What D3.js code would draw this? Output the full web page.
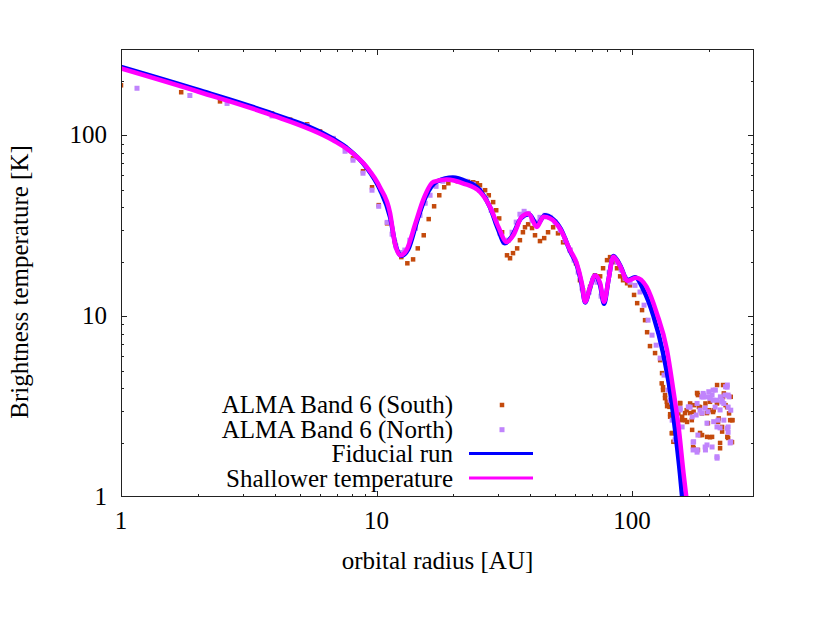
<!DOCTYPE html>
<html>
<head>
<meta charset="utf-8">
<script src="https://cdn.jsdelivr.net/npm/d3@7"></script>
<style>
  body { margin: 0; background: #fff; }
  text { font-family: "Liberation Serif", "Times New Roman", serif; fill: #000; }
</style>
</head>
<body>
<div id="chart"></div>
<script>
// ALMA Band 6 radial profiles, [radius AU, brightness temperature K]
const southObs = [
  [1.0,189],[1.72,173],[2.44,154],[3.90,132],[4.59,122],[5.35,115],[6.01,105],[6.76,96.2],
  [7.53,85.9],[8.09,74.6],[8.85,63.3],[9.60,51.6],[10.2,41.1],[11.0,32.6],[11.8,25.6],
  [12.5,21.2],[13.2,19.6],[13.9,20.6],[14.5,23.7],[15.3,28.0],[16.0,34.4],[16.8,40.5],
  [17.6,46.6],[18.4,51.6],[19.1,54.3],[20.8,55.7],[21.8,55.7],[22.8,55.4],[23.9,55.0],
  [24.7,54.3],[25.4,52.9],[26.6,49.7],[27.5,46.6],[28.6,42.7],[29.4,38.5],[30.2,34.7],
  [31.0,29.1],[31.8,25.6],[32.4,21.7],[33.3,20.9],[34.2,22.3],[35.5,23.7],[36.4,26.3],
  [37.4,29.1],[38.1,31.0],[39.2,32.2],[40.6,30.7],[41.7,28.0],[43.6,26.0],[45.3,27.0],
  [46.9,29.1],[49.1,31.0],[51.3,28.7],[53.7,25.6],[57.2,23.2],[60.3,19.6],[62.5,15.8],
  [64.3,13.9],[66.1,12.7],[68.5,14.5],[71.6,16.8],[75.0,16.6],[77.0,18.4],[79.8,20.4],
  [82.0,21.2],[85.1,19.9],[87.3,18.4],[89.8,16.6],[92.2,15.8],[95.6,15.2],[98.2,14.8],
  [101.8,13.1],[104.7,11.8],[109.4,10.8],[112.4,9.5],[114.5,8.15],[117.5,6.83],[123.0,6.25],
  [128.8,5.71],[130.6,4.25],[131.0,4.84],[132.2,4.05],[132.2,3.90],[134.6,3.52],[134.6,3.66],
  [136.7,3.36],[137.1,3.18],[140,3.15],[140.9,2.87],[140.9,2.78],[143,2.25],[143.5,2.26],
  [145.1,2.02],[147.3,2.77],[151.7,2.90],[154.2,3.31],[154.2,3.29],[157.0,2.66],[157,2.78],
  [161.1,2.91],[161.1,2.66],[163.5,3.02],[164.1,2.60],[168.7,2.91],[168.7,3.29],[171.3,2.66],
  [171.8,2.35],[173.3,1.89],[174.1,2.96],[174.1,1.86],[175.0,3.22],[179.6,3.76],[179.9,3.74],
  [181,3.66],[181,1.82],[182.7,3.15],[184.5,3.14],[184.5,2.26],[184.5,2.20],[187.5,2.90],
  [187.9,2.20],[193.7,3.29],[196.4,2.91],[196.6,2.15],[198,2.56],[199.6,3.02],[201.8,2.14],
  [201.8,3.36],[205.6,2.15],[207.5,2.95],[208.6,3.02],[214.9,3.29],[215.1,3.35],[215.1,4.16],
  [217,2.60],[218.3,2.72],[221,1.99],[221,1.86],[225,2.44],[225.1,2.30],[227,3.57],
  [227,4.16],[228.6,3.74],[232.2,3.22],[235.5,3.14],[235.9,2.15],[237.6,2.12],[239.6,2.90],
  [242,2.66],[243.3,3.58],[246,2.01],[246,2.66],[247.1,2.66]
];
const northObs = [
  [1.155,182],[1.86,166],[2.60,150],[3.90,128],[5.35,113],[6.76,96.2],[7.53,81.6],[8.09,72.8],
  [8.85,61.7],[9.60,49.7],[10.2,40.5],[11.0,33.0],[11.5,28.4],[11.9,24.4],[12.5,22.5],
  [12.9,23.2],[13.5,26.3],[14.2,30.6],[14.8,36.1],[15.5,42.1],[16.2,46.6],[17.1,52.2],
  [18.2,55.7],[19.4,57.2],[20.8,56.8],[22.4,55.7],[23.9,53.6],[25.4,49.7],[26.8,44.9],
  [28.1,38.5],[29.4,33.1],[30.4,28.7],[31.6,25.6],[32.7,26.3],[33.9,29.1],[35.2,33.1],
  [36.4,36.6],[37.8,38.0],[39.2,37.0],[40.6,33.9],[42.1,33.1],[43.6,35.2],[45.6,36.1],
  [47.8,35.2],[50.0,33.1],[52.3,29.9],[54.7,26.3],[57.2,23.2],[59.3,20.4],[61.5,17.5],
  [63.7,14.3],[65.5,12.6],[67.9,13.6],[70.3,15.8],[72.9,15.4],[75.6,12.9],[78.4,12.7],
  [81.3,17.5],[84.3,20.9],[87.3,19.9],[90.6,18.0],[93.9,16.2],[98.2,15.4],[102.7,14.8],
  [107.4,13.6],[111.4,11.5],[115.5,9.5],[119.7,7.85],[124.2,6.91],[128.8,5.86],[133.4,4.72],
  [138.3,3.90],[140.9,3.43],[143.5,2.66],[147.3,2.07],[149.5,2.55],[152,2.15],[154.2,3.03],
  [154.2,3.09],[157.0,2.44],[166,3.15],[168.7,3.14],[171.8,2.77],[173.3,1.82],[173.3,2.01],
  [174.1,2.02],[178.2,2.84],[179.6,1.77],[179.6,3.29],[179.9,1.82],[181,2.20],[184.5,3.02],
  [187.5,3.58],[187.9,2.91],[189.7,3.57],[189.7,3.74],[190.5,3.66],[193.2,3.10],[193.2,1.89],
  [193.7,1.82],[196.4,2.56],[196.4,1.94],[196.6,3.58],[198,2.96],[199.6,3.82],[201.8,3.57],
  [201.8,3.51],[205.6,1.89],[205.6,3.66],[207.5,3.43],[207.5,3.90],[208.6,2.61],[211.3,3.14],
  [211.8,3.90],[214.9,2.44],[214.9,1.67],[215.1,1.64],[215.1,3.43],[217,2.66],[221,2.41],
  [221,3.03],[221.6,3.58],[225,3.35],[225.1,3.43],[228.6,3.29],[228.6,2.66],[231,3.66],
  [232.2,4.07],[235.5,4.05],[235.9,4.16],[235.9,2.40],[237.6,3.14],[237.6,2.28],[237.6,3.66],
  [237.6,2.44],[239.6,3.58],[242,1.99],[243.3,2.02],[243.3,3.02]
];
const fiducialRun = [
  [1,239],[2.04,177],[3.72,135],[6.76,95.7],[7.64,85.3],[9.15,66.1],[10.3,50.3],[11.3,35.2],
  [11.9,24.4],[12.5,21.6],[13.3,23.4],[14.4,33.5],[15.6,46.0],[17.3,55.7],[19.9,58.4],
  [22.4,55.7],[25.4,49.7],[27.8,40.0],[29.8,30.6],[31.8,25.3],[33.9,27.7],[36.8,34.8],
  [39.5,36.6],[42.5,32.2],[45.6,36.1],[48.6,34.8],[52.7,30.2],[57.2,22.9],[60.8,19.1],
  [63.6,14.8],[65.5,11.9],[68.5,14.4],[71.6,16.8],[75.0,14.8],[77.7,11.7],[80.8,15.8],
  [84.5,21.5],[89.8,19.1],[96.0,15.8],[102.7,16.4],[111,13.9],[121,10.1],[132,6.32],
  [141,3.80],[147,2.41],[154,1.34],[157,1.0],[159,0.85]
];
const shallowerTemp = [
  [1,234],[2.04,173],[3.72,132],[6.76,93.8],[7.64,84.4],[9.15,66.8],[10.3,51.8],[11.3,37.1],
  [11.8,25.3],[12.4,21.7],[13.1,23.2],[14.2,32.6],[15.2,43.7],[16.7,55.2],[18.8,56.9],
  [21.9,54.1],[25.4,48.6],[27.8,40.2],[30.0,31.1],[32.3,25.7],[34.3,28.0],[37.0,35.4],
  [39.3,36.9],[42.4,31.1],[45.0,35.4],[47.8,34.7],[52.2,30.5],[57.2,23.2],[60.8,19.5],
  [63.6,15.2],[65.5,12.0],[68.5,14.5],[71.6,16.8],[75.0,15.2],[77.7,12.0],[80.8,15.8],
  [84.5,21.3],[89.8,18.9],[96.0,15.7],[103.7,16.3],[114,14.5],[125,10.35],[137,6.49],
  [145,3.90],[152,2.45],[159,1.35],[163,1.0],[166,0.8]
];

const xDomain = [1, 300];
const yDomain = [1, 300];
const majorTicks = [1, 10, 100];
const xMinor = [2,3,4,5,6,7,8,9,20,30,40,50,60,70,80,90,200,300];
const yMinor = [2,3,4,5,6,7,8,9,20,30,40,50,60,70,80,90,200,300];

const series = [
  {name: "ALMA Band 6 (South)", type: "pts", data: southObs, color: "#c44a0c", size: 4.5},
  {name: "ALMA Band 6 (North)", type: "pts", data: northObs, color: "#c084fc", size: 5},
  {name: "Fiducial run", type: "line", data: fiducialRun, color: "#0000ff"},
  {name: "Shallower temperature", type: "line", data: shallowerTemp, color: "#ff00ff"}
];

const W = 830, H = 623;
const margin = {top: 49, right: 76, bottom: 126, left: 121};

const svg = d3.select("#chart").append("svg")
  .attr("width", W).attr("height", H);

const x = d3.scaleLog().domain(xDomain).range([margin.left, W - margin.right]);
const y = d3.scaleLog().domain(yDomain).range([H - margin.bottom, margin.top]);

svg.append("defs").append("clipPath").attr("id", "plot-clip")
  .append("rect")
  .attr("x", margin.left).attr("y", margin.top)
  .attr("width", W - margin.left - margin.right)
  .attr("height", H - margin.top - margin.bottom);

const plot = svg.append("g").attr("clip-path", "url(#plot-clip)");

const line = d3.line()
  .x(d => x(d[0]))
  .y(d => y(d[1]))
  .curve(d3.curveMonotoneX);

series.forEach(s => {
  if (s.type === "pts") {
    plot.append("g").selectAll("rect")
      .data(s.data)
      .join("rect")
        .attr("x", d => x(d[0]) - s.size / 2)
        .attr("y", d => y(d[1]) - s.size / 2)
        .attr("width", s.size)
        .attr("height", s.size)
        .attr("fill", s.color);
  } else {
    plot.append("path")
      .datum(s.data)
      .attr("fill", "none")
      .attr("stroke", s.color)
      .attr("stroke-width", 4.5)
      .attr("stroke-linejoin", "round")
      .attr("d", line);
  }
});

// frame + ticks (gnuplot style, inward, mirrored)
const x0 = margin.left, x1 = W - margin.right, y0 = H - margin.bottom, y1 = margin.top;
const axes = svg.append("g").attr("stroke", "#222").attr("stroke-width", 1);

axes.append("rect")
  .attr("x", x0 + 0.5).attr("y", y1 + 0.5)
  .attr("width", x1 - x0 - 1).attr("height", y0 - y1 - 1)
  .attr("fill", "none");

const tickLen = v => majorTicks.includes(v) ? 6 : 3;
[...majorTicks, ...xMinor].filter(v => v > xDomain[0] && v < xDomain[1]).forEach(v => {
  const px = Math.round(x(v)) + 0.5;
  axes.append("line").attr("x1", px).attr("x2", px).attr("y1", y0).attr("y2", y0 - tickLen(v));
  axes.append("line").attr("x1", px).attr("x2", px).attr("y1", y1).attr("y2", y1 + tickLen(v));
});
[...majorTicks, ...yMinor].filter(v => v > yDomain[0] && v < yDomain[1]).forEach(v => {
  const py = Math.round(y(v)) + 0.5;
  axes.append("line").attr("y1", py).attr("y2", py).attr("x1", x0).attr("x2", x0 + tickLen(v));
  axes.append("line").attr("y1", py).attr("y2", py).attr("x1", x1).attr("x2", x1 - tickLen(v));
});

const fs = 25;
svg.append("g").selectAll("text")
  .data(majorTicks)
  .join("text")
    .attr("x", d => x(d))
    .attr("y", y0 + 32)
    .attr("text-anchor", "middle")
    .attr("font-size", fs)
    .text(d => d);

svg.append("g").selectAll("text")
  .data(majorTicks)
  .join("text")
    .attr("x", x0 - 14)
    .attr("y", d => y(d) + 8)
    .attr("text-anchor", "end")
    .attr("font-size", fs)
    .text(d => d);

svg.append("text")
  .attr("x", (x0 + x1) / 2)
  .attr("y", 569)
  .attr("text-anchor", "middle")
  .attr("font-size", fs)
  .text("orbital radius [AU]");

svg.append("text")
  .attr("transform", `translate(28,${(y0 + y1) / 2 + 9}) rotate(-90)`)
  .attr("text-anchor", "middle")
  .attr("font-size", fs)
  .text("Brightness temperature [K]");

// legend
const legend = svg.append("g").attr("transform", "translate(453,405)");
series.forEach((s, i) => {
  const g = legend.append("g").attr("transform", `translate(0,${i * 24.7})`);
  g.append("text")
    .attr("x", 0).attr("y", 8)
    .attr("text-anchor", "end")
    .attr("font-size", fs)
    .text(s.name);
  if (s.type === "pts") {
    g.append("rect")
      .attr("x", 49 - s.size / 2).attr("y", -s.size / 2)
      .attr("width", s.size).attr("height", s.size)
      .attr("fill", s.color);
  } else {
    g.append("line")
      .attr("x1", 16).attr("x2", 80)
      .attr("y1", -1).attr("y2", -1)
      .attr("stroke", s.color)
      .attr("stroke-width", 3);
  }
});
</script>
</body>
</html>
